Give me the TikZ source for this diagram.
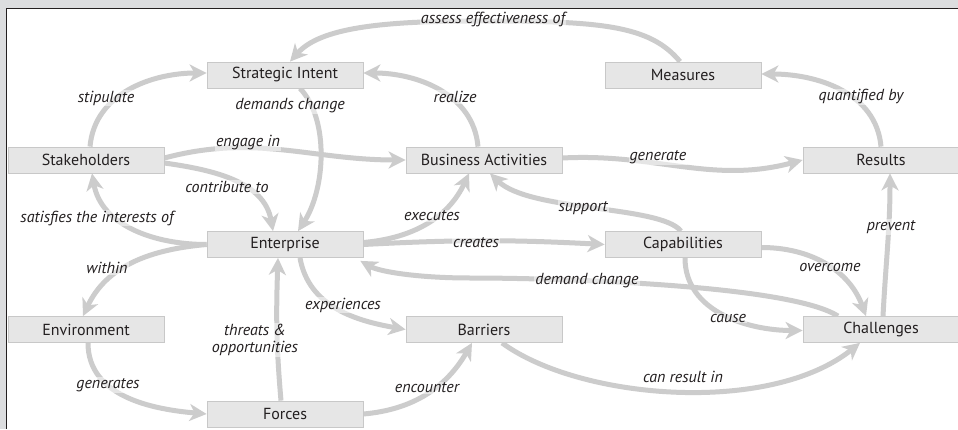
\documentclass[tikz,border=0pt]{standalone}
\usepackage{fontspec}
\setmainfont{PT Sans}
\usetikzlibrary{arrows.meta}
\definecolor{bgc}{HTML}{DCDDDF}
\definecolor{ln}{HTML}{CCCCCC}
\definecolor{bx}{HTML}{E6E6E6}
\definecolor{bxd}{HTML}{C8C8C8}
\definecolor{tx}{HTML}{231F20}
\pgfdeclarelayer{back}
\pgfsetlayers{back,main}
\begin{document}
\begin{tikzpicture}[x=1pt,y=1pt,
  box/.style={draw=bxd, line width=0.8pt, fill=bx, minimum width=156pt, minimum height=26pt, inner sep=0pt, text=tx, font=\fontsize{16}{18}\selectfont},
  arr/.style={draw=ln, line width=5pt, -{Stealth[length=17pt,width=17pt,inset=5pt]}},
  lab/.style={font=\itshape\fontsize{16}{17}\selectfont, text=tx, fill=white, fill opacity=0.5, text opacity=1, inner sep=1pt, align=center}]
\useasboundingbox (0,0) rectangle (958,429);
% boxes
\node[box] (SI) at (285,354) {Strategic Intent};
\node[box] (Me) at (683,354) {Measures};
\node[box] (St) at (86,269) {Stakeholders};
\node[box] (BA) at (484,269) {Business Activities};
\node[box] (Re) at (881,269) {Results};
\node[box] (En) at (285,184.5) {Enterprise};
\node[box] (Ca) at (683,184.5) {Capabilities};
\node[box] (Env) at (86,99.5) {Environment};
\node[box] (Ba) at (484,99.5) {Barriers};
\node[box] (Ch) at (881,99.5) {Challenges};
\node[box] (Fo) at (285,15) {Forces};
\begin{pgfonlayer}{back}
\fill[bgc] (0,0) rectangle (958,429);
\fill[white] (6.5,0) rectangle (958,420.7);
\draw[tx, line width=1.5pt] (6.5,0) -- (6.5,420.7) -- (958,420.7);
% connectors
\draw[arr] ([xshift=4]St.north) to[out=85,in=180] ([yshift=2]SI.west);
\draw[arr] ([xshift=15]SI.south) .. controls (330,309) and (325,239) .. ([xshift=13]En.north);
\draw[arr] ([xshift=-6]BA.north) to[out=95,in=0] ([yshift=2]SI.east);
\draw[arr] ([xshift=-3]Me.north) .. controls (650,404) and (600,408) .. (480,408) .. controls (380,408) and (320,401) .. ([xshift=5]SI.north);
\draw[arr] (Re.north) to[out=95,in=0] ([yshift=1]Me.east);
\draw[arr] ([yshift=2]St.east) to[out=15,in=180] (BA.west);
\draw[arr] ([yshift=-3]St.east) to[out=-8,in=100] ([xshift=-12]En.north);
\draw[arr] (En.west) to[out=180,in=-80] ([xshift=6]St.south);
\draw[arr] ([yshift=2]BA.east) to[out=3,in=195] (Re.west);
\draw[arr] ([yshift=2]En.east) to[out=5,in=-115] ([xshift=-15]BA.south);
\draw[arr] ([xshift=-2]Ca.north) .. controls (660,224) and (530,217) .. ([xshift=6]BA.south);
\draw[arr] (En.east) to[bend left=3] (Ca.west);
\draw[arr] ([xshift=-43]Ch.north) .. controls (790,144) and (560,151) .. (470,151) .. controls (420,151) and (380,157) .. ([xshift=-3,yshift=-3]En.south east);
\draw[arr] ([yshift=-3]Ca.east) to[out=0,in=110] ([xshift=-15]Ch.north);
\draw[arr] ([xshift=2]Ca.south) to[out=-90,in=180] ([yshift=-1]Ch.west);
\draw[arr] ([xshift=2]Ch.north) to[out=87,in=-90] ([xshift=9]Re.south);
\draw[arr] (En.west) to[out=185,in=65] ([xshift=-3]Env.north);
\draw[arr] ([xshift=15]En.south) to[out=-80,in=170] (Ba.west);
\draw[arr] ([xshift=2]Env.south) to[out=-90,in=175] (Fo.west);
\draw[arr] ([xshift=-4]Fo.north) to[out=95,in=-92] ([xshift=-7]En.south);
\draw[arr] (Fo.east) to[out=5,in=-120] ([xshift=-12]Ba.south);
\draw[arr] ([xshift=18]Ba.south) .. controls (580,29) and (770,14) .. ([xshift=-21]Ch.south);
\end{pgfonlayer}
% labels
\node[lab] (l1) at (106,331) {stipulate};
\node[lab] (l2) at (290,323) {demands change};
\node[lab] (l3) at (455,332) {realize};
\node[lab] (l4) at (493,410) {assess effectiveness of};
\node[lab] (l5) at (861,332) {quantified by};
\node[lab] (l6) at (248,286) {engage in};
\node[lab] (l7) at (227,242) {contribute to};
\node[lab] (l8) at (97,211) {satisfies the interests of};
\node[lab] (l9) at (658,272) {generate};
\node[lab] (l10) at (432,213) {executes};
\node[lab] (l11) at (583,221) {support};
\node[lab] (l12) at (476,186) {creates};
\node[lab] (l13) at (587,148) {demand change};
\node[lab] (l14) at (830,162) {overcome};
\node[lab] (l15) at (728,111) {cause};
\node[lab] (l16) at (891,202) {prevent};
\node[lab] (l17) at (107,161) {within};
\node[lab] (l18) at (343,124) {experiences};
\node[lab] (l19) at (108,44) {generates};
\node[lab] (l20) at (255,89) {threats \&\\opportunities};
\node[lab] (l21) at (427,41) {encounter};
\node[lab] (l22) at (683,52) {can result in};
\end{tikzpicture}
\end{document}
